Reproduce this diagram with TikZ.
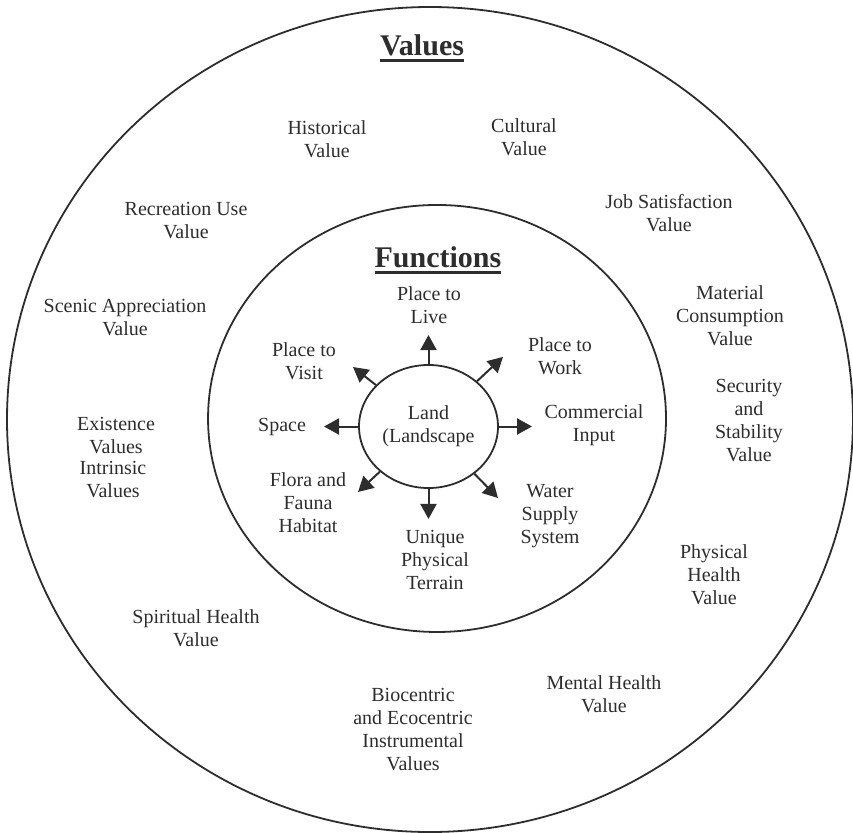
\documentclass[tikz,border=0pt]{standalone}
\usepackage{fontspec}
\setmainfont{Liberation Serif}
\usetikzlibrary{arrows.meta,shapes.geometric}
\definecolor{scanInk}{RGB}{45,45,45}

% thick underline for the two headings
\newcommand{\ulhead}[1]{%
  \setbox0=\hbox{#1}%
  \rlap{\rule[-3.2pt]{\wd0}{1.2pt}}\box0}

\tikzset{
  lbl/.style={align=center,font=\fontsize{10}{11.5}\selectfont,text=scanInk,inner sep=1pt},
  head/.style={font=\bfseries\fontsize{15}{18}\selectfont,text=scanInk},
  ring/.style={draw=scanInk,line width=0.9pt},
  fnarrow/.style={draw=scanInk,line width=1pt,-{Triangle[length=7.5pt,width=8pt]}}
}

\begin{document}
\begin{tikzpicture}
        \useasboundingbox (0,0) rectangle (14.99,14.638);
        % Rings
        \draw[ring] (7.556,7.266) ellipse [x radius=7.433, y radius=7.249];
        \draw[ring] (7.680,7.284) ellipse [x radius=4.024, y radius=3.752];

        % Headings
        \node[head] (valuesHead) at (7.416,13.795) {\ulhead{Values}};
        \node[head] (functionsHead) at (7.697,10.069) {\ulhead{Functions}};

        % Centre
        \node[lbl,ring,ellipse,inner sep=0pt,minimum width=2.442cm,
              minimum height=2.162cm] (land) at (7.530,7.143) {Land\\(Landscape};

        % Functions (name, x, y, text)
        \foreach \nm/\x/\y/\txt in {
          Live/7.539/9.279/{Place to\\Live},
          Work/9.841/8.382/{Place to\\Work},
          Commercial/10.438/7.170/{Commercial\\Input},
          Water/9.665/5.571/{Water\\Supply\\System},
          Terrain/7.644/4.797/{Unique\\Physical\\Terrain},
          Flora/5.413/5.799/{Flora and\\Fauna\\Habitat},
          Space/4.956/7.135/{Space},
          Visit/5.342/8.295/{Place to\\Visit}}{
          \node[lbl] (f\nm) at (\x,\y) {\txt};
        }

        % Arrows out of the land (tip positions)
        \foreach \nm/\x/\y in {
          Live/7.530/8.751,
          Work/8.839/8.365,
          Commercial/9.349/7.143,
          Water/8.751/5.887,
          Terrain/7.530/5.518,
          Flora/6.291/5.992,
          Space/5.694/7.143,
          Visit/6.203/8.189}{
          \coordinate (tip\nm) at (\x,\y);
          \draw[fnarrow] (land) -- (tip\nm);
        }

        % Values (name, x, y, text)
        \foreach \nm/\x/\y/\txt in {
          Historical/5.746/12.196/{Historical\\Value},
          Cultural/9.208/12.231/{Cultural\\Value},
          Job/11.756/10.895/{Job Satisfaction\\Value},
          Recreation/3.269/10.755/{Recreation Use\\Value},
          Scenic/2.197/9.050/{Scenic Appreciation\\Value},
          Material/12.828/9.085/{Material\\Consumption\\Value},
          Existence/2.040/6.977/{Existence\\Values},
          Security/13.162/7.240/{Security\\and\\Stability\\Value},
          Intrinsic/1.986/6.203/{Intrinsic\\Values},
          Physical/12.547/4.534/{Physical\\Health\\Value},
          Spiritual/3.444/3.603/{Spiritual Health\\Value},
          Mental/10.614/2.443/{Mental Health\\Value},
          Biocentric/7.258/1.810/{Biocentric\\and Ecocentric\\Instrumental\\Values}}{
          \node[lbl] (v\nm) at (\x,\y) {\txt};
        }
      \end{tikzpicture}
\end{document}
